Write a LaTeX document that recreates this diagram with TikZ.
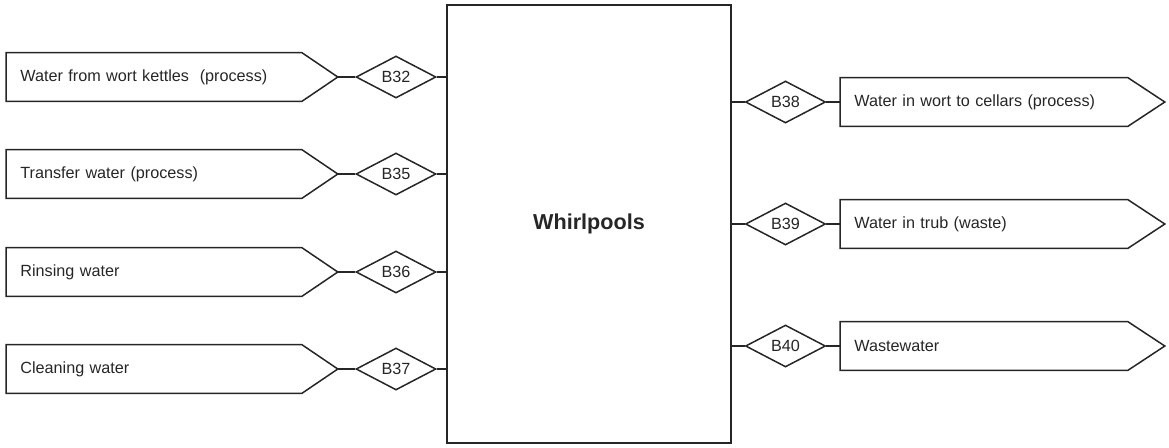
\documentclass[tikz,border=0pt]{standalone}
\usepackage{fontspec}
\setmainfont{Liberation Sans}
\usetikzlibrary{shapes.geometric,calc}
\definecolor{ink}{HTML}{262626}
\begin{document}
\begin{tikzpicture}[x=0.5pt,y=-0.5pt,
  outline/.style={draw=ink, line width=0.75pt, line join=miter},
  flowtext/.style={font=\fontsize{8.1}{10}\selectfont, text=ink, anchor=west,
    minimum height=24pt, inner xsep=7pt, inner ysep=0pt, align=left},
  leftflow/.style={flowtext, text width=133.5pt, minimum width=147.5pt},
  rightflow/.style={flowtext, text width=129.5pt, minimum width=143.5pt},
  gauge/.style={diamond, aspect=2, draw=ink, line width=0.75pt, inner sep=0pt,
    minimum width=40pt, minimum height=21pt, text=ink,
    font=\fontsize{8.1}{10}\selectfont},
  unit/.style={draw=ink, line width=0.75pt, minimum width=142pt,
    minimum height=219pt, inner sep=0pt, text=ink,
    font=\fontsize{10.8}{13}\bfseries\selectfont}
]
\useasboundingbox (0,0) rectangle (1169,447);

% central process unit
\node[unit] (wp) at (589,224) {Whirlpools};

% incoming streams on the left
\foreach \y/\n/\g/\t in {77/L1/B32/{Water from wort kettles\ \ (process)},
                          174/L2/B35/{Transfer water (process)},
                          272/L3/B36/{Rinsing water},
                          369/L4/B37/{Cleaning water}}{
  \node[leftflow] (\n) at (6,\y) {\t};
  \coordinate (\n tip) at ($(\n.east)+(36,0)$);
  \draw[outline] (\n.north west) -- (\n.north east) -- (\n tip)
    -- (\n.south east) -- (\n.south west) -- cycle;
  \node[gauge] (\n g) at (396,\y) {\g};
  \draw[outline] (\n tip) -- (\n g.west);
  \draw[outline] (\n g.east) -- (wp.west |- \n g.east);
}

% outgoing streams on the right
\foreach \y/\n/\g/\t in {102/R1/B38/{Water in wort to cellars (process)},
                          224/R2/B39/{Water in trub (waste)},
                          346/R3/B40/{Wastewater}}{
  \node[rightflow] (\n) at (840,\y) {\t};
  \coordinate (\n tip) at ($(\n.east)+(37,0)$);
  \draw[outline] (\n.north west) -- (\n.north east) -- (\n tip)
    -- (\n.south east) -- (\n.south west) -- cycle;
  \node[gauge] (\n g) at (785.5,\y) {\g};
  \draw[outline] (wp.east |- \n g.west) -- (\n g.west);
  \draw[outline] (\n g.east) -- (\n.west);
}
\end{tikzpicture}
\end{document}
